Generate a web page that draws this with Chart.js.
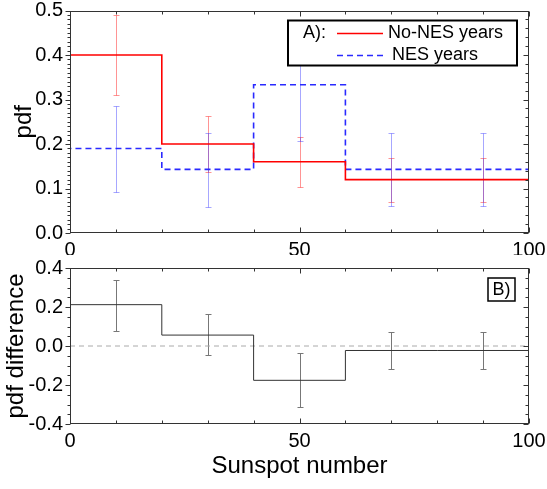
<!DOCTYPE html>
<html lang="en">
<head>
  <meta charset="UTF-8" />
  <title>pdf vs sunspot number</title>
  <script src="https://cdn.jsdelivr.net/npm/chart.js"></script>
  <style>
    body { margin: 0; background: #fff; }
    #wrap { position: relative; width: 547px; height: 489px; }
    canvas { position: absolute; left: 0; }
    #chartTop { top: 0; }
    #chartBottom { top: 255px; }
  </style>
</head>
<body>
<div id="wrap">
  <canvas id="chartTop" width="547" height="255"></canvas>
  <canvas id="chartBottom" width="547" height="234"></canvas>
</div>
<script>
// bins of sunspot number
const binEdges = [0, 20, 40, 60, 80, 100];
const binCenters = [10, 30, 50, 70, 90];

// A) pdf, no-NES years
const noNesPdf  = [0.40, 0.20, 0.16, 0.12, 0.12];
const noNesLow  = [0.31, 0.137, 0.103, 0.07, 0.07];
const noNesHigh = [0.49, 0.262, 0.216, 0.168, 0.168];

// A) pdf, NES years
const nesPdf  = [0.19, 0.143, 0.333, 0.143, 0.143];
const nesLow  = [0.093, 0.059, 0.207, 0.06, 0.06];
const nesHigh = [0.286, 0.224, 0.46, 0.224, 0.224];

// B) pdf difference
const pdfDiff  = [0.212, 0.056, -0.176, -0.023, -0.023];
const diffLow  = [0.078, -0.047, -0.314, -0.119, -0.119];
const diffHigh = [0.34, 0.162, -0.037, 0.071, 0.071];

const FONT = 'Arial, "Liberation Sans", sans-serif';

// step outline: value of bin i runs from edge i to edge i+1
function stepPoints(vals, fromZero) {
  const pts = binEdges.map((e, i) => ({ x: e, y: vals[Math.min(i, vals.length - 1)] }));
  if (fromZero) pts.unshift({ x: binEdges[0], y: 0 });
  return pts;
}

const errorBars = {
  id: 'errorBars',
  beforeDatasetsDraw(chart, args, opts) {
    const { ctx, scales: { x, y } } = chart;
    ctx.save();
    ctx.lineWidth = 1;
    opts.sets.forEach(s => {
      ctx.strokeStyle = s.color;
      binCenters.forEach((c, i) => {
        const px = Math.round(x.getPixelForValue(c)) + 0.5;
        const lo = Math.round(y.getPixelForValue(s.low[i])) + 0.5;
        const hi = Math.round(y.getPixelForValue(s.high[i])) + 0.5;
        ctx.beginPath();
        ctx.moveTo(px, lo); ctx.lineTo(px, hi);
        ctx.moveTo(px - 3, lo); ctx.lineTo(px + 3, lo);
        ctx.moveTo(px - 3, hi); ctx.lineTo(px + 3, hi);
        ctx.stroke();
      });
    });
    ctx.restore();
  }
};

// box around plot + tick marks (outward on the left, inward elsewhere)
const frameTicks = {
  id: 'frameTicks',
  afterDraw(chart, args, o) {
    const { ctx, chartArea: a, scales: { x, y } } = chart;
    ctx.save();
    ctx.strokeStyle = '#333';
    ctx.lineWidth = 1;
    const L = Math.round(a.left) + 0.5, R = Math.round(a.right) - 0.5;
    const T = Math.round(a.top) + 0.5, B = Math.round(a.bottom) - 0.5;
    ctx.strokeRect(L, T, R - L, B - T);
    ctx.beginPath();
    const nx = Math.round((x.max - x.min) / o.xMinor);
    for (let i = 0; i <= nx; i++) {
      const v = x.min + i * o.xMinor;
      const px = Math.round(x.getPixelForValue(v)) + 0.5;
      const len = (i * o.xMinor) % o.xMajor === 0 ? 5 : 3;
      ctx.moveTo(px, B); ctx.lineTo(px, B - len);
      ctx.moveTo(px, T); ctx.lineTo(px, T + len);
    }
    const side = (step, dir, edge) => {
      const n = Math.round((y.max - y.min) / step);
      for (let i = 0; i <= n; i++) {
        const v = y.min + i * step;
        const py = Math.round(y.getPixelForValue(v)) + 0.5;
        const major = Math.abs(v / o.yMajor - Math.round(v / o.yMajor)) < 1e-6;
        const len = major ? 5 : 3;
        ctx.moveTo(edge, py); ctx.lineTo(edge + dir * len, py);
      }
    };
    side(o.yMinorL, -1, L);
    side(o.yMinorR, -1, R);
    ctx.stroke();
    ctx.restore();
  }
};

const legendBox = {
  id: 'legendBox',
  afterDraw(chart) {
    const { ctx, chartArea: a } = chart;
    const bx = a.right - 241, by = a.top + 10, bw = 229, bh = 45;
    ctx.save();
    ctx.fillStyle = '#fff';
    ctx.fillRect(bx, by, bw, bh);
    ctx.strokeStyle = '#000';
    ctx.lineWidth = 2;
    ctx.strokeRect(bx, by, bw, bh);
    ctx.font = '18px ' + FONT;
    ctx.fillStyle = '#000';
    ctx.textBaseline = 'middle';
    ctx.fillText('A):', bx + 15, by + 13);
    ctx.fillText('No-NES years', bx + 100, by + 13);
    ctx.fillText('NES years', bx + 104, by + 35);
    ctx.lineWidth = 1.5;
    ctx.strokeStyle = '#ff0000';
    ctx.beginPath(); ctx.moveTo(bx + 49, by + 13); ctx.lineTo(bx + 95, by + 13); ctx.stroke();
    ctx.strokeStyle = '#2a2aff';
    ctx.setLineDash([6, 4]);
    ctx.beginPath(); ctx.moveTo(bx + 49, by + 35); ctx.lineTo(bx + 95, by + 35); ctx.stroke();
    ctx.restore();
  }
};

const panelLabel = {
  id: 'panelLabel',
  afterDraw(chart) {
    const { ctx, chartArea: a } = chart;
    const bx = a.right - 41, by = a.top + 10, bw = 27, bh = 23;
    ctx.save();
    ctx.strokeStyle = '#000';
    ctx.lineWidth = 1.5;
    ctx.strokeRect(bx, by, bw, bh);
    ctx.font = '18px ' + FONT;
    ctx.fillStyle = '#000';
    ctx.textBaseline = 'middle';
    ctx.textAlign = 'center';
    ctx.fillText('B)', bx + bw / 2, by + bh / 2 + 1);
    ctx.restore();
  }
};

function noPad(s) {
  s.paddingLeft = 0; s.paddingRight = 0; s.paddingTop = 0; s.paddingBottom = 0;
}

function xScale(height, title) {
  return {
    type: 'linear', min: 0, max: 100,
    grid: { display: false, drawTicks: false },
    border: { display: false },
    ticks: { stepSize: 50, color: '#000', padding: 7, font: { family: FONT, size: 20, lineHeight: 1 } },
    title: title,
    afterFit: s => { s.height = height; noPad(s); }
  };
}

function yScale(min, max, step, title, titlePad) {
  return {
    min: min, max: max,
    grid: { display: false, drawTicks: false },
    border: { display: false },
    ticks: {
      stepSize: step, color: '#000', padding: 7,
      font: { family: FONT, size: 20, lineHeight: 1 },
      callback: v => v.toFixed(1)
    },
    title: { display: true, text: title, color: '#000', padding: { top: titlePad, bottom: 0 },
             font: { family: FONT, size: 24 } },
    afterFit: s => { s.width = 70; noPad(s); }
  };
}

const commonOpts = {
  responsive: false,
  animation: false,
  plugins: { legend: { display: false }, tooltip: { enabled: false } }
};

new Chart(document.getElementById('chartTop'), {
  type: 'line',
  data: {
    datasets: [
      { data: stepPoints(noNesPdf, true), stepped: 'before', borderColor: '#ff0000',
        borderWidth: 1.6, pointRadius: 0 },
      { data: stepPoints(nesPdf, true), stepped: 'before', borderColor: '#2a2aff',
        borderWidth: 1.6, borderDash: [6, 4], pointRadius: 0 }
    ]
  },
  options: {
    ...commonOpts,
    layout: { padding: { left: 0, right: 18, top: 10.5, bottom: 0 } },
    scales: {
      x: xScale(22, { display: false }),
      y: yScale(0, 0.5, 0.1, 'pdf', 10)
    },
    plugins: {
      ...commonOpts.plugins,
      errorBars: { sets: [
        { color: 'rgba(255,60,60,0.55)', low: noNesLow, high: noNesHigh },
        { color: 'rgba(60,60,255,0.45)', low: nesLow, high: nesHigh }
      ] },
      frameTicks: { xMinor: 10, xMajor: 50, yMinorL: 0.01, yMinorR: 0.02, yMajor: 0.1 }
    }
  },
  plugins: [errorBars, frameTicks, legendBox]
});

new Chart(document.getElementById('chartBottom'), {
  type: 'line',
  data: {
    datasets: [
      { data: stepPoints(pdfDiff, false), stepped: 'before', borderColor: '#333',
        borderWidth: 1, pointRadius: 0 },
      { data: [{ x: 0, y: 0 }, { x: 100, y: 0 }], borderColor: '#aaa',
        borderWidth: 1, borderDash: [5, 4], pointRadius: 0 }
    ]
  },
  options: {
    ...commonOpts,
    layout: { padding: { left: 0, right: 18, top: 13, bottom: 0 } },
    scales: {
      x: xScale(65, { display: true, text: 'Sunspot number', color: '#000',
                      padding: { top: 0, bottom: 8 }, font: { family: FONT, size: 24 } }),
      y: yScale(-0.4, 0.4, 0.2, 'pdf difference', 2)
    },
    plugins: {
      ...commonOpts.plugins,
      errorBars: { sets: [ { color: '#777', low: diffLow, high: diffHigh } ] },
      frameTicks: { xMinor: 10, xMajor: 50, yMinorL: 0.05, yMinorR: 0.05, yMajor: 0.2 }
    }
  },
  plugins: [errorBars, frameTicks, panelLabel]
});
</script>
</body>
</html>
